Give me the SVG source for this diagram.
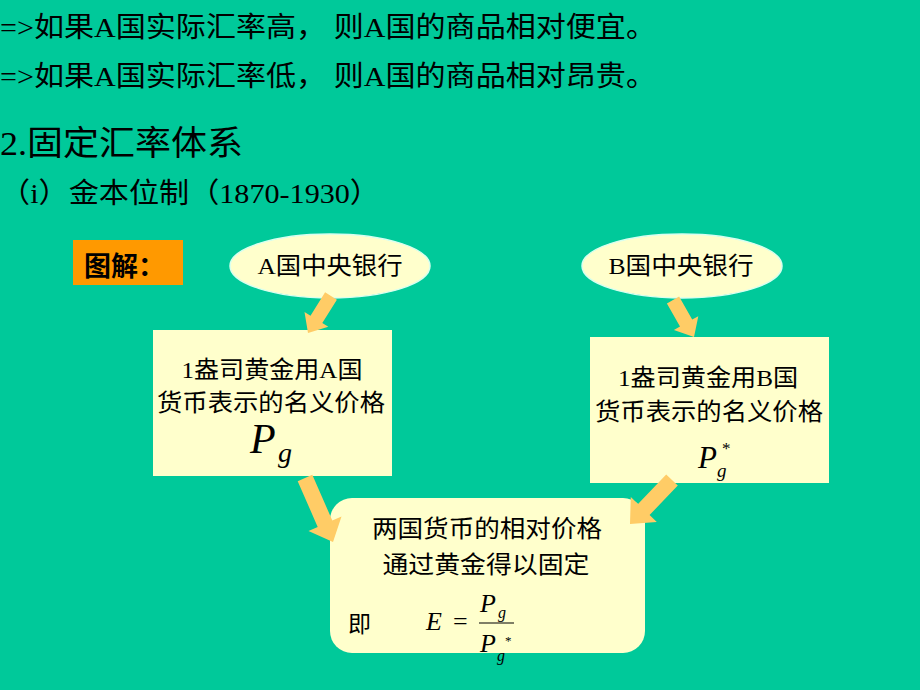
<svg xmlns="http://www.w3.org/2000/svg" width="920" height="690" viewBox="0 0 920 690">
<style>
.t{font-family:"Liberation Serif","Noto Sans CJK SC",serif;fill:#000}
.m{font-family:"Liberation Serif","Times New Roman",serif;font-style:italic;fill:#000}
.n{fill:#FFFFCC}
.ar{fill:#FFCC66}
</style>
<rect width="920" height="690" fill="#00C99A"/>
<g id="header">
<text class="t" x="0" y="37" font-size="28" textLength="656" lengthAdjust="spacingAndGlyphs">=&gt;如果A国实际汇率高， 则A国的商品相对便宜。</text>
<text class="t" x="0" y="86" font-size="28" textLength="656" lengthAdjust="spacingAndGlyphs">=&gt;如果A国实际汇率低， 则A国的商品相对昂贵。</text>
<text class="t" x="0" y="155" font-size="34" textLength="243" lengthAdjust="spacingAndGlyphs">2.固定汇率体系</text>
<text class="t" x="0" y="203" font-size="28" textLength="380" lengthAdjust="spacingAndGlyphs">（i）金本位制（1870-1930）</text>
</g>
<g id="label">
<rect x="73" y="240" width="110" height="45" fill="#FF9900"/>
<text class="t" x="84" y="276" font-size="27" font-weight="bold">图解：</text>
</g>
<g id="bankA">
<ellipse cx="330" cy="266" rx="100" ry="32" class="n" stroke="#D8FFF0" stroke-width="1.5"/>
<text class="t" x="330" y="274" font-size="24" text-anchor="middle" textLength="145" lengthAdjust="spacingAndGlyphs">A国中央银行</text>
</g>
<g id="bankB">
<ellipse cx="682" cy="266" rx="100" ry="32" class="n" stroke="#D8FFF0" stroke-width="1.5"/>
<text class="t" x="681" y="274" font-size="24" text-anchor="middle" textLength="145" lengthAdjust="spacingAndGlyphs">B国中央银行</text>
</g>
<g id="priceA">
<rect x="153" y="330" width="239" height="146" class="n"/>
<text class="t" x="272" y="378" font-size="24" text-anchor="middle" textLength="181" lengthAdjust="spacingAndGlyphs">1盎司黄金用A国</text>
<text class="t" x="271" y="411" font-size="24" text-anchor="middle" textLength="228" lengthAdjust="spacingAndGlyphs">货币表示的名义价格</text>
<text class="m" x="250" y="453" font-size="42">P</text>
<text class="m" x="278" y="462" font-size="28">g</text>
</g>
<g id="priceB">
<rect x="590" y="337" width="239" height="146" class="n"/>
<text class="t" x="708" y="386" font-size="24" text-anchor="middle" textLength="180" lengthAdjust="spacingAndGlyphs">1盎司黄金用B国</text>
<text class="t" x="709" y="420" font-size="24" text-anchor="middle" textLength="228" lengthAdjust="spacingAndGlyphs">货币表示的名义价格</text>
<text class="m" x="698" y="468" font-size="31">P</text>
<text class="m" x="717" y="477" font-size="19">g</text>
<text class="t" x="722" y="454" font-size="17">*</text>
</g>
<g id="result">
<rect x="330" y="498" width="315" height="155" rx="22" ry="22" class="n"/>
<text class="t" x="487" y="537" font-size="24" text-anchor="middle" textLength="230" lengthAdjust="spacingAndGlyphs">两国货币的相对价格</text>
<text class="t" x="486" y="573" font-size="24" text-anchor="middle" textLength="207" lengthAdjust="spacingAndGlyphs">通过黄金得以固定</text>
<text class="t" x="348" y="632" font-size="23">即</text>
<text class="m" x="426" y="630" font-size="26">E</text>
<text class="t" x="453" y="630" font-size="26">=</text>
<line x1="479" y1="623" x2="514" y2="623" stroke="#000" stroke-width="1.2"/>
<text class="m" x="480" y="612" font-size="26">P</text>
<text class="m" x="498" y="618" font-size="16">g</text>
<text class="m" x="480" y="652" font-size="26">P</text>
<text class="m" x="497" y="661" font-size="16">g</text>
<text class="t" x="505" y="645" font-size="13">*</text>
</g>
<g id="connectors">
<polygon class="ar" points="336.9,299.7 322.3,323.1 328.3,326.8 308,333 304.5,312 310.5,315.7 325.1,292.3"/>
<polygon class="ar" points="679.1,296.5 692.2,319.6 698.3,316.2 694,337 673.9,330 680,326.6 666.9,303.5"/>
<polygon class="ar" points="312.3,474.8 332.3,520.5 341.5,516.5 333,542 308.5,530.9 317.7,526.9 297.7,481.2"/>
<polygon class="ar" points="677.8,485.5 649.6,515 656.8,521.9 630,524 630.8,497.1 638,504 666.2,474.5"/>
</g>
</svg>
